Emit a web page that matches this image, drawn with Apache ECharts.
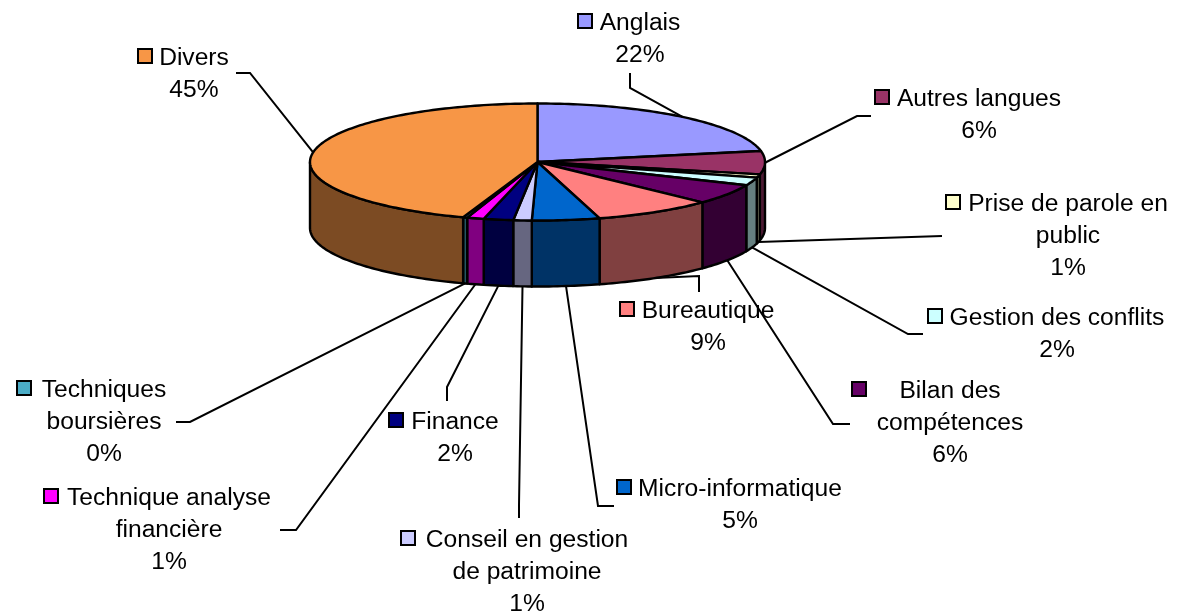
<!DOCTYPE html>
<html><head><meta charset="utf-8">
<style>html,body{margin:0;padding:0;background:#fff}#c{width:1182px;height:614px}</style>
<script src="https://cdn.jsdelivr.net/npm/echarts@6/dist/echarts.min.js"></script>
</head><body><div id="c"></div>
<script>
// Data
const categories = ['Anglais','Autres langues','Prise de parole en\npublic','Gestion des conflits','Bilan des\ncompétences','Bureautique','Micro-informatique','Conseil en gestion\nde patrimoine','Finance','Technique analyse\nfinancière','Techniques\nboursières','Divers'];
const shares = [22,6.4,0.9,2.2,5.6,8.5,4.8,1.3,2.1,1.2,0.3,44.7];
const topColors = ['#9999FF','#993366','#FFFFCC','#CCFFFF','#660066','#FF8080','#0066CC','#CCCCFF','#000080','#FF00FF','#4BACC6','#F79646'];
const sideColors = ['#4D4D80','#4D1A33','#808066','#668080','#330033','#804040','#003366','#666680','#000040','#800080','#265663','#7C4B23'];
// Label layout (page pixels), separate from the data
const labelCx  = [640,979,1068,1057,950,708,740,527,455,169,104,194];
const labelY   = [22,98,203,317,390,310,488,539,421,497,389,57];
const keyX     = [578,875,946,928,852,620,617,401,389,44,17,138];
const elbows = [
  [[630,88],[630,73]],
  [[857,116],[871,116]],
  [[942,236]],
  [[908,334],[923,334]],
  [[833,424],[850,424]],
  [[699,276],[699,292]],
  [[598,506],[614,506]],
  [[519,505],[519,518]],
  [[447,387],[447,401]],
  [[296,530],[280,530]],
  [[190,422],[176,422]],
  [[250,73],[236,73]]
];
const CX=537.5, CY=162, RX=227.5, RY=58.5, DEPTH=66, INK='#000';
const total = shares.reduce((a,b)=>a+b,0);
const starts=[]; shares.reduce((a,v,i)=>(starts[i]=a,a+v),0);
const ang = p => p/total*Math.PI*2;
const px = (t,dy=0)=>[CX+RX*Math.sin(t), CY-RY*Math.cos(t)+dy];
function arc(a,b,dy){const n=Math.max(2,Math.ceil((b-a)/0.02));const o=[];for(let i=0;i<=n;i++)o.push(px(a+(b-a)*i/n,dy));return o;}

function renderSlice(params,api){
  const i=params.dataIndex, a=ang(api.value(1)), b=a+ang(api.value(0));
  const ch=[];
  const wa=Math.max(a,Math.PI/2), wb=Math.min(b,Math.PI*1.5);
  if(wb>wa){
    ch.push({type:'polygon',shape:{points:arc(wa,wb,0).concat(arc(wa,wb,DEPTH).reverse())},
      style:{fill:sideColors[i],stroke:INK,lineWidth:2.4,lineJoin:'round'}});
  }
  ch.push({type:'polygon',shape:{points:[[CX,CY]].concat(arc(a,b,0))},
    style:{fill:topColors[i],stroke:INK,lineWidth:2.4,lineJoin:'round'}});
  return {type:'group',children:ch};
}
function renderLabel(params,api){
  const i=params.dataIndex, a=ang(api.value(1)), m=a+ang(api.value(0))/2;
  const front = m>Math.PI/2+0.1 && m<Math.PI*1.5;
  const start=px(m,front?DEPTH:0);
  const y=labelY[i];
  return {type:'group',children:[
    {type:'polyline',shape:{points:[start].concat(elbows[i])},style:{fill:null,stroke:INK,lineWidth:2}},
    {type:'rect',shape:{x:keyX[i],y:y-8,width:14,height:14},style:{fill:topColors[i],stroke:INK,lineWidth:2}},
    {type:'text',x:labelCx[i],y:y-14,scaleX:1.07,style:{text:categories[i]+'\n'+Math.round(api.value(0)/total*100)+'%',
      font:'23px "Liberation Sans"',fill:'#000',align:'center',verticalAlign:'top',lineHeight:31.8}}
  ]};
}
const rows=shares.map((v,i)=>[v,starts[i]]);
const chart=echarts.init(document.getElementById('c'),null,{renderer:'canvas'});
chart.setOption({animation:false,backgroundColor:'#fff',
  series:[
    {type:'custom',coordinateSystem:'none',renderItem:renderSlice,data:rows,z:2,silent:true},
    {type:'custom',coordinateSystem:'none',renderItem:renderLabel,data:rows,z:3,silent:true}
  ]});
</script></body></html>
